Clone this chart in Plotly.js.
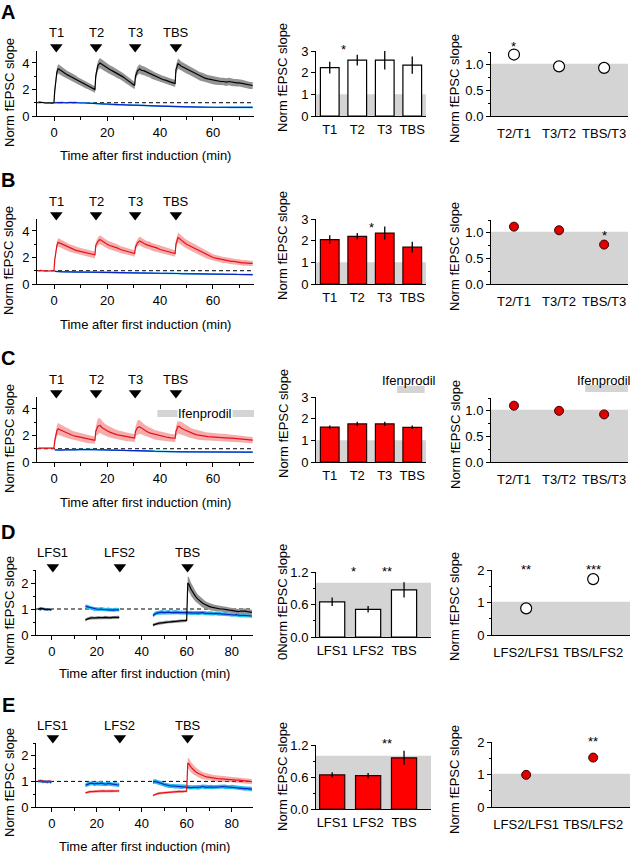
<!DOCTYPE html>
<html><head><meta charset="utf-8">
<script src="https://cdn.plot.ly/plotly-3.0.1.min.js"></script>
<style>html,body{margin:0;padding:0;background:#fff}#chart{width:632px;height:853px}</style>
</head><body><div id="chart"></div>
<script>
// ===================== DATA =====================
// time (min) grid for panels A-C
const tABC = [-6,-5,-4,-3,-2,-1,-0.1,
 0.2,1,1.5,2,3,4,5,6,7,8,9,10,11,12,13,14,15,15.4,
 15.7,16.5,17.3,18,19,20,21,22,23,24,25,26,27,28,29,30,30.4,
 30.7,31.5,32.3,33,34,35,36,37,38,39,40,41,42,43,44,45,45.7,
 46,46.8,47.5,48,49,50,51,52,53,54,55,56,57,58,59,60,61,62,63,64,65,66,67,68,69,70,71,72,73,74,75];

const A_test = [1.05,1.02,1.0,0.98,1.0,0.97,1.0,
 1.9,3.3,3.55,3.5,3.35,3.2,3.1,3.0,2.9,2.8,2.65,2.55,2.45,2.35,2.25,2.15,2.05,2.0,
 3.0,3.8,4.0,3.9,3.75,3.6,3.5,3.4,3.3,3.15,3.05,2.95,2.8,2.65,2.5,2.35,2.3,
 3.0,3.4,3.55,3.45,3.4,3.3,3.25,3.1,3.0,2.9,2.85,2.75,2.7,2.6,2.55,2.5,2.45,
 3.5,3.95,3.85,3.75,3.65,3.55,3.45,3.3,3.2,3.1,3.0,2.95,2.85,2.8,2.75,2.7,2.65,2.65,2.6,2.6,2.55,2.6,2.55,2.5,2.5,2.5,2.45,2.4,2.35,2.3,2.3];
const A_testSem = [0.06,0.05,0.06,0.05,0.06,0.05,0.06,
 0.15,0.3,0.35,0.35,0.33,0.32,0.3,0.3,0.3,0.28,0.28,0.28,0.27,0.27,0.26,0.26,0.25,0.25,
 0.3,0.35,0.38,0.37,0.35,0.34,0.33,0.33,0.32,0.31,0.3,0.3,0.29,0.28,0.28,0.27,0.27,
 0.3,0.33,0.35,0.34,0.33,0.33,0.32,0.31,0.3,0.3,0.29,0.29,0.28,0.28,0.27,0.27,0.27,
 0.33,0.38,0.37,0.36,0.35,0.34,0.34,0.33,0.33,0.32,0.32,0.31,0.31,0.3,0.3,0.3,0.3,0.29,0.29,0.29,0.29,0.29,0.28,0.28,0.28,0.28,0.28,0.28,0.27,0.27,0.27];
const A_ctl = [null,null,null,null,null,null,null,
 1.0,1.02,1.01,1.0,1.02,1.0,1.01,1.03,1.0,1.02,1.0,0.99,1.01,1.0,0.98,0.97,0.95,0.94,
 0.92,0.9,0.9,0.89,0.88,0.87,0.86,0.86,0.85,0.84,0.85,0.84,0.83,0.83,0.82,0.82,0.82,
 0.83,0.82,0.8,0.8,0.79,0.78,0.78,0.77,0.76,0.76,0.75,0.75,0.74,0.74,0.73,0.73,0.72,
 0.72,0.71,0.71,0.7,0.7,0.69,0.69,0.68,0.68,0.68,0.67,0.67,0.67,0.66,0.66,0.66,0.66,0.65,0.65,0.65,0.65,0.65,0.66,0.65,0.64,0.65,0.65,0.64,0.64,0.65,0.65];

const B_test = [1.0,1.02,0.98,1.0,1.01,0.99,1.0,
 1.8,2.9,3.15,3.1,3.0,2.9,2.8,2.7,2.65,2.55,2.5,2.45,2.4,2.35,2.3,2.25,2.2,2.2,
 2.9,3.2,3.35,3.25,3.1,3.0,2.9,2.85,2.75,2.7,2.6,2.55,2.5,2.45,2.4,2.35,2.3,
 2.8,3.1,3.25,3.15,3.05,2.95,2.9,2.8,2.75,2.7,2.6,2.55,2.5,2.45,2.4,2.35,2.3,
 3.0,3.5,3.4,3.3,3.15,3.0,2.9,2.75,2.65,2.55,2.45,2.35,2.25,2.15,2.1,2.0,1.95,1.9,1.85,1.8,1.8,1.75,1.7,1.7,1.65,1.65,1.6,1.6,1.55,1.55,1.55];
const B_testSem = [0.06,0.06,0.06,0.06,0.06,0.06,0.06,
 0.15,0.28,0.32,0.32,0.3,0.3,0.29,0.28,0.28,0.27,0.27,0.26,0.26,0.26,0.25,0.25,0.25,0.25,
 0.25,0.3,0.33,0.32,0.31,0.3,0.3,0.29,0.28,0.28,0.27,0.27,0.27,0.26,0.26,0.26,0.25,
 0.25,0.3,0.33,0.32,0.31,0.3,0.3,0.29,0.28,0.28,0.27,0.27,0.27,0.26,0.26,0.26,0.25,
 0.3,0.38,0.37,0.35,0.34,0.33,0.32,0.31,0.3,0.29,0.28,0.27,0.27,0.26,0.25,0.25,0.24,0.24,0.23,0.23,0.22,0.22,0.22,0.21,0.21,0.21,0.2,0.2,0.2,0.2,0.2];
const B_ctl = [null,null,null,null,null,null,null,
 0.95,0.93,0.92,0.93,0.92,0.92,0.91,0.92,0.91,0.9,0.91,0.9,0.9,0.9,0.89,0.9,0.89,0.89,
 0.89,0.88,0.88,0.87,0.88,0.87,0.87,0.86,0.86,0.86,0.85,0.85,0.85,0.84,0.84,0.84,0.84,
 0.84,0.83,0.83,0.83,0.82,0.82,0.82,0.81,0.81,0.81,0.8,0.8,0.8,0.8,0.79,0.79,0.79,
 0.79,0.79,0.78,0.78,0.78,0.77,0.77,0.77,0.76,0.76,0.76,0.76,0.75,0.75,0.75,0.75,0.74,0.74,0.74,0.74,0.73,0.73,0.73,0.73,0.72,0.72,0.72,0.72,0.71,0.71,0.71];

const C_test = [1.05,1.06,1.04,1.05,1.06,1.05,1.05,
 1.6,2.35,2.5,2.45,2.35,2.25,2.15,2.1,2.0,1.95,1.9,1.85,1.8,1.75,1.7,1.68,1.65,1.65,
 2.3,2.7,2.75,2.6,2.45,2.35,2.25,2.15,2.1,2.05,2.0,1.95,1.9,1.88,1.85,1.82,1.8,
 2.3,2.6,2.65,2.55,2.4,2.3,2.2,2.15,2.05,2.0,1.95,1.9,1.88,1.85,1.82,1.8,1.8,
 2.3,2.7,2.65,2.55,2.45,2.35,2.25,2.15,2.1,2.05,2.0,1.97,1.95,1.92,1.9,1.88,1.88,1.86,1.85,1.85,1.82,1.8,1.8,1.78,1.75,1.73,1.72,1.7,1.68,1.65,1.65];
const C_testSem = [0.05,0.05,0.05,0.05,0.05,0.05,0.05,
 0.2,0.4,0.45,0.42,0.4,0.38,0.36,0.35,0.34,0.33,0.32,0.31,0.3,0.3,0.29,0.29,0.28,0.28,
 0.35,0.6,0.55,0.5,0.45,0.42,0.4,0.38,0.36,0.35,0.34,0.33,0.32,0.31,0.3,0.3,0.3,
 0.35,0.55,0.52,0.48,0.45,0.42,0.4,0.38,0.36,0.35,0.34,0.33,0.32,0.31,0.3,0.3,0.3,
 0.35,0.55,0.52,0.48,0.45,0.42,0.4,0.38,0.36,0.35,0.34,0.33,0.32,0.31,0.3,0.3,0.29,0.29,0.28,0.28,0.27,0.27,0.26,0.26,0.25,0.25,0.25,0.24,0.24,0.24,0.24];
const C_ctl = [null,null,null,null,null,null,null,
 0.92,0.9,0.9,0.91,0.9,0.92,0.91,0.92,0.93,0.92,0.93,0.94,0.93,0.94,0.95,0.94,0.93,0.93,
 0.92,0.92,0.91,0.91,0.9,0.9,0.9,0.89,0.89,0.88,0.88,0.88,0.87,0.87,0.86,0.86,0.86,
 0.85,0.85,0.84,0.84,0.83,0.83,0.82,0.82,0.81,0.8,0.8,0.79,0.79,0.78,0.78,0.77,0.77,
 0.77,0.77,0.76,0.76,0.76,0.76,0.75,0.75,0.76,0.76,0.76,0.77,0.77,0.77,0.77,0.76,0.76,0.76,0.76,0.76,0.75,0.75,0.75,0.75,0.75,0.74,0.74,0.74,0.74,0.74,0.74];
const ctlSemABC = [null,null,null,null,null,null,null,
 0.05,0.06,0.06,0.05,0.06,0.06,0.05,0.06,0.06,0.05,0.06,0.06,0.05,0.06,0.06,0.05,0.06,0.06,
 0.06,0.06,0.05,0.06,0.06,0.05,0.06,0.06,0.05,0.06,0.06,0.05,0.06,0.06,0.05,0.06,0.06,
 0.06,0.06,0.05,0.06,0.06,0.05,0.06,0.06,0.05,0.06,0.06,0.05,0.06,0.06,0.05,0.06,0.06,
 0.06,0.06,0.05,0.06,0.06,0.05,0.06,0.06,0.05,0.06,0.06,0.05,0.06,0.06,0.05,0.06,0.06,0.05,0.06,0.06,0.05,0.06,0.06,0.05,0.06,0.06,0.05,0.06,0.06,0.05,0.06];

// time (min) grid for panels D-E (nulls = gaps during LFS)
const tDE = [-6,-5,-4,-3,-2,-1,-0.2, 7,
 15,16,17,18,19,20,21,22,23,24,25,26,27,28,29,30, 37,
 45,46,47,48,49,50,51,52,53,54,55,56,57,58,59,60, 60.5,
 61,62,63,64,65,66,67,68,69,70,71,72,73,74,75,76,77,78,79,80,81,82,83,84,85,86,87,88,89];
const D_test = [1.0,1.03,1.02,0.98,1.0,0.99,0.97, null,
 0.58,0.63,0.65,0.66,0.65,0.66,0.67,0.66,0.67,0.68,0.67,0.66,0.68,0.67,0.68,0.68, null,
 0.38,0.42,0.44,0.46,0.47,0.48,0.5,0.5,0.51,0.52,0.52,0.53,0.54,0.55,0.55,0.56, 2.0,
 1.95,1.75,1.6,1.48,1.38,1.3,1.23,1.18,1.13,1.1,1.07,1.05,1.03,1.02,1.0,1.0,0.98,0.97,0.96,0.95,0.94,0.93,0.9,0.92,0.93,0.92,0.9,0.88,0.87];
const D_testSem = [0.05,0.04,0.05,0.05,0.04,0.05,0.05, null,
 0.06,0.05,0.06,0.06,0.05,0.06,0.06,0.05,0.06,0.06,0.05,0.06,0.06,0.05,0.06,0.06, null,
 0.06,0.05,0.06,0.06,0.05,0.06,0.06,0.05,0.06,0.06,0.05,0.06,0.06,0.05,0.06,0.06, 0.25,
 0.28,0.25,0.22,0.2,0.18,0.17,0.16,0.15,0.14,0.13,0.13,0.12,0.12,0.12,0.11,0.11,0.11,0.11,0.1,0.1,0.1,0.1,0.1,0.1,0.1,0.1,0.1,0.1,0.1];
const D_ctl = [1.0,0.98,1.01,1.0,0.97,0.99,0.96, null,
 1.1,1.08,1.05,1.02,1.0,1.0,0.99,1.0,0.98,0.97,0.98,0.97,0.96,0.97,0.98,0.97, null,
 0.75,0.82,0.85,0.87,0.88,0.86,0.87,0.88,0.86,0.87,0.88,0.87,0.86,0.85,0.86,0.86, 0.85,
 0.85,0.85,0.84,0.85,0.84,0.85,0.86,0.84,0.83,0.84,0.83,0.82,0.83,0.82,0.81,0.8,0.81,0.8,0.79,0.78,0.77,0.78,0.76,0.75,0.76,0.75,0.74,0.74,0.73];
const D_ctlSem = [0.04,0.05,0.04,0.05,0.04,0.05,0.04, null,
 0.07,0.08,0.07,0.07,0.08,0.07,0.07,0.08,0.07,0.07,0.08,0.07,0.07,0.08,0.07,0.07, null,
 0.07,0.08,0.07,0.07,0.08,0.07,0.07,0.08,0.07,0.07,0.08,0.07,0.07,0.08,0.07,0.07, 0.07,
 0.07,0.08,0.07,0.07,0.08,0.07,0.07,0.08,0.07,0.07,0.08,0.07,0.07,0.08,0.07,0.07,0.08,0.07,0.07,0.08,0.07,0.07,0.08,0.07,0.07,0.08,0.07,0.07,0.08];
const E_test = [1.02,1.0,1.03,0.98,1.01,1.0,1.0, null,
 0.55,0.58,0.6,0.6,0.61,0.62,0.61,0.62,0.63,0.62,0.63,0.64,0.63,0.62,0.63,0.63, null,
 0.45,0.5,0.52,0.54,0.55,0.56,0.57,0.58,0.58,0.59,0.6,0.6,0.61,0.6,0.61,0.62, 1.72,
 1.68,1.55,1.45,1.38,1.32,1.27,1.23,1.2,1.18,1.16,1.14,1.13,1.12,1.11,1.1,1.1,1.09,1.08,1.08,1.07,1.06,1.05,1.05,1.04,1.03,1.02,1.02,1.0,0.99];
const E_testSem = [0.04,0.04,0.04,0.04,0.04,0.04,0.04, null,
 0.05,0.05,0.05,0.05,0.05,0.05,0.05,0.05,0.05,0.05,0.05,0.05,0.05,0.05,0.05,0.05, null,
 0.05,0.05,0.05,0.05,0.05,0.05,0.05,0.05,0.05,0.05,0.05,0.05,0.05,0.05,0.05,0.05, 0.2,
 0.22,0.2,0.18,0.17,0.16,0.15,0.14,0.14,0.13,0.13,0.12,0.12,0.12,0.12,0.11,0.11,0.11,0.11,0.11,0.1,0.1,0.1,0.1,0.1,0.1,0.1,0.1,0.1,0.1];
const E_ctl = [1.0,1.02,0.98,1.0,0.97,1.0,0.95, null,
 0.85,0.9,0.92,0.93,0.9,0.92,0.91,0.93,0.9,0.89,0.92,0.9,0.88,0.89,0.87,0.86, null,
 0.98,1.0,0.97,0.95,0.92,0.88,0.85,0.83,0.82,0.82,0.81,0.8,0.8,0.79,0.8,0.79, 0.78,
 0.76,0.76,0.77,0.77,0.76,0.78,0.8,0.78,0.77,0.78,0.78,0.77,0.78,0.78,0.79,0.8,0.79,0.78,0.77,0.78,0.77,0.76,0.75,0.74,0.73,0.72,0.72,0.71,0.7];
const E_ctlSem = [0.05,0.06,0.05,0.06,0.05,0.06,0.05, null,
 0.08,0.09,0.08,0.08,0.09,0.08,0.08,0.09,0.08,0.08,0.09,0.08,0.08,0.09,0.08,0.08, null,
 0.08,0.09,0.08,0.08,0.09,0.08,0.08,0.09,0.08,0.08,0.09,0.08,0.08,0.09,0.08,0.08, 0.08,
 0.08,0.09,0.08,0.08,0.09,0.08,0.08,0.09,0.08,0.08,0.09,0.08,0.08,0.09,0.08,0.08,0.09,0.08,0.08,0.09,0.08,0.08,0.09,0.08,0.08,0.09,0.08,0.08,0.09];

// stimulation markers
const stimT_ABC = [0.8, 15.8, 30.6, 46];
const stimLbl_ABC = ['T1','T2','T3','TBS'];
const stimT_DE = [0.5, 30.3, 60.4];
const stimLbl_DE = ['LFS1','LFS2','TBS'];
const ifenT = [39, 75.5];          // ifenprodil application (min), panel C

// bar summaries
const barCats_ABC = ['T1','T2','T3','TBS'];
const A_bar = [2.23, 2.58, 2.58, 2.35], A_barErr = [0.27, 0.25, 0.43, 0.4];
const B_bar = [2.05, 2.2, 2.35, 1.7],   B_barErr = [0.2, 0.15, 0.3, 0.25];
const C_bar = [1.61, 1.76, 1.76, 1.6],  C_barErr = [0.08, 0.1, 0.1, 0.08];
const barCats_DE = ['LFS1','LFS2','TBS'];
const D_bar = [0.65, 0.51, 0.87], D_barErr = [0.08, 0.06, 0.14];
const E_bar = [0.64, 0.625, 0.96], E_barErr = [0.05, 0.05, 0.13];

// ratios
const ratioCats_ABC = ['T2/T1','T3/T2','TBS/T3'];
const A_ratio = [1.2, 0.97, 0.94];
const B_ratio = [1.12, 1.05, 0.77];
const C_ratio = [1.1, 1.0, 0.93];
const ratioCats_DE = ['LFS2/LFS1','TBS/LFS2'];
const D_ratio = [0.82, 1.72];
const E_ratio = [0.99, 1.52];

// significance marks [x (category index), y, text]
const A_barStarX = [0.5],  A_barStarY = [3.2],  A_barStarT = ['*'];
const A_ratStarX = [0],    A_ratStarY = [1.41], A_ratStarT = ['*'];
const B_barStarX = [1.5],  B_barStarY = [2.75], B_barStarT = ['*'];
const B_ratStarX = [2],    B_ratStarY = [1.0],  B_ratStarT = ['*'];
const D_barStarX = [0.58, 1.53], D_barStarY = [1.27, 1.27], D_barStarT = ['*','**'];
const D_ratStarX = [0, 1], D_ratStarY = [2.12, 2.12], D_ratStarT = ['**','***'];
const E_barStarX = [1.53], E_barStarY = [1.29], E_barStarT = ['**'];
const E_ratStarX = [1],    E_ratStarY = [2.12], E_ratStarT = ['**'];

// ===================== DRAWING =====================
const W = 632, H = 853;
const FONT = '"Liberation Sans", Arial, Helvetica, sans-serif';
const fx = p => p / W, fy = p => 1 - p / H;
const R = (n, k) => k + (n === 1 ? '' : n);
const AX = (n, k) => (k === 'x' ? 'xaxis' : 'yaxis') + (n === 1 ? '' : n);
const traces = [];
const layout = {width: W, height: H, margin: {l:0, r:0, t:0, b:0}, paper_bgcolor: '#fff',
  plot_bgcolor: 'rgba(0,0,0,0)', showlegend: false, font: {family: FONT, size: 13, color: '#000'},
  shapes: [], annotations: []};

const COL = {
  black: '#000000', gray: '#939393',
  red: '#e8101a', redBand: 'rgba(238,70,70,0.45)',
  blue: '#0a22c8', cyan: '#22bde9',
  shade: '#d4d4d4'
};

function baseAxis() {
  return {showline: true, linecolor: '#000', linewidth: 1, showgrid: false, zeroline: false,
    fixedrange: true, ticks: 'outside', ticklen: 4, tickwidth: 1, tickcolor: '#000',
    tickfont: {family: FONT, size: 13, color: '#000'}};
}
function minor(d) { return {ticks: 'outside', ticklen: 2.5, tickwidth: 1, tickcolor: '#000', dtick: d}; }
function addAxes(n, box, xo, yo) {
  layout[AX(n,'x')] = Object.assign(baseAxis(), {domain: [fx(box.x0), fx(box.x1)], anchor: R(n,'y')}, xo);
  layout[AX(n,'y')] = Object.assign(baseAxis(), {domain: [fy(box.y1), fy(box.y0)], anchor: R(n,'x')}, yo);
}
function ann(text, xpx, ypx, opt) {
  layout.annotations.push(Object.assign({text, x: fx(xpx), y: fy(ypx), xref: 'paper', yref: 'paper',
    showarrow: false, xanchor: 'center', yanchor: 'middle',
    font: {family: FONT, size: 13, color: '#000'}}, opt || {}));
}
// stars: x on the category axis, y converted from axis value to paper (may lie above the axis top)
function stars(n, xs, ys, ts, top, bot, ymax) {
  xs.forEach((x, i) => layout.annotations.push({text: ts[i], x, xref: R(n,'x'),
    y: fy(bot - ys[i] / ymax * (bot - top)), yref: 'paper',
    showarrow: false, xanchor: 'center', yanchor: 'middle', yshift: -3,
    font: {family: FONT, size: 13, color: '#000'}}));
}
function segments(t, v, s) {
  const segs = []; let cur = null;
  for (let i = 0; i < t.length; i++) {
    if (v[i] === null || v[i] === undefined) { if (cur) { segs.push(cur); cur = null; } continue; }
    if (!cur) cur = {t: [], v: [], s: []};
    cur.t.push(t[i]); cur.v.push(v[i]); cur.s.push(s[i]);
  }
  if (cur) segs.push(cur);
  return segs;
}
function band(n, t, v, s, color) {
  segments(t, v, s).forEach(seg => {
    const xs = seg.t.concat(seg.t.slice().reverse());
    const ys = seg.v.map((m, i) => m + seg.s[i]).concat(seg.v.map((m, i) => m - seg.s[i]).reverse());
    traces.push({type: 'scatter', mode: 'lines', x: xs, y: ys, fill: 'toself', fillcolor: color,
      line: {width: 0}, xaxis: R(n,'x'), yaxis: R(n,'y'), hoverinfo: 'skip'});
  });
}
function line(n, t, v, color) {
  traces.push({type: 'scatter', mode: 'lines', x: t, y: v, connectgaps: false,
    line: {color, width: 1.2}, xaxis: R(n,'x'), yaxis: R(n,'y'), hoverinfo: 'skip'});
}
function shade(n, top) {
  layout.shapes.push({type: 'rect', xref: R(n,'x') + ' domain', yref: R(n,'y'), x0: 0, x1: 1, y0: 0, y1: top,
    fillcolor: COL.shade, line: {width: 0}, layer: 'below'});
}
function dashed(n) {
  layout.shapes.push({type: 'line', xref: R(n,'x') + ' domain', yref: R(n,'y'), x0: 0, x1: 1, y0: 1, y1: 1,
    line: {color: '#000', width: 1, dash: '4px,3px'}, layer: 'below'});
}

// ---- panel description ----
const panels = [
  {L:'A', o:0,   kind:'ABC', t:tABC, test:A_test, testSem:A_testSem, ctl:A_ctl, ctlSem:ctlSemABC,
   testCol:COL.black, testBand:COL.gray, bar:A_bar, barErr:A_barErr, barFill:'#ffffff', ratio:A_ratio, red:false,
   bs:[A_barStarX,A_barStarY,A_barStarT], rs:[A_ratStarX,A_ratStarY,A_ratStarT]},
  {L:'B', o:168, kind:'ABC', t:tABC, test:B_test, testSem:B_testSem, ctl:B_ctl, ctlSem:ctlSemABC,
   testCol:COL.red, testBand:COL.redBand, bar:B_bar, barErr:B_barErr, barFill:'#ff0000', ratio:B_ratio, red:true,
   bs:[B_barStarX,B_barStarY,B_barStarT], rs:[B_ratStarX,B_ratStarY,B_ratStarT]},
  {L:'C', o:346, kind:'ABC', t:tABC, test:C_test, testSem:C_testSem, ctl:C_ctl, ctlSem:ctlSemABC,
   testCol:COL.red, testBand:COL.redBand, bar:C_bar, barErr:C_barErr, barFill:'#ff0000', ratio:C_ratio, red:true,
   bs:null, rs:null, ifen:true},
  {L:'D', o:0, kind:'DE', t:tDE, test:D_test, testSem:D_testSem, ctl:D_ctl, ctlSem:D_ctlSem,
   testCol:COL.black, testBand:COL.gray, bar:D_bar, barErr:D_barErr, barFill:'#ffffff', ratio:D_ratio, red:false,
   bs:[D_barStarX,D_barStarY,D_barStarT], rs:[D_ratStarX,D_ratStarY,D_ratStarT],
   g:{letter:532, stimLbl:552, tri:567, tTop:570, tBot:635, bTop:572, bBot:637, rTop:570, rBot:635,
      xt:673, yt1:611, yt2:602, yt3:607, ytitle2:'0Norm fEPSC slope'}},
  {L:'E', o:0, kind:'DE', t:tDE, test:E_test, testSem:E_testSem, ctl:E_ctl, ctlSem:E_ctlSem,
   testCol:COL.red, testBand:COL.redBand, bar:E_bar, barErr:E_barErr, barFill:'#ff0000', ratio:E_ratio, red:true,
   bs:[E_barStarX,E_barStarY,E_barStarT], rs:[E_ratStarX,E_ratStarY,E_ratStarT],
   g:{letter:705, stimLbl:725, tri:738, tTop:743, tBot:807, bTop:745, bBot:809, rTop:742, rBot:807,
      xt:846, yt1:783, yt2:777, yt3:780, ytitle2:'Norm fEPSC slope'}}
];

panels.forEach((P, p) => {
  const n1 = p * 3 + 1, n2 = p * 3 + 2, n3 = p * 3 + 3, nS = 16 + p;
  let g;
  if (P.kind === 'ABC') {
    const o = P.o;
    g = {letter:12+o, stimLbl:33+o, tri:47+o, tTop:51+o, tBot:116+o, bTop:51+o, bBot:116+o, rTop:52+o, rBot:116+o,
         xt:156+o, yt1:93+o, yt2:78+o, yt3:88+o, ytitle2:'Norm fEPSC slope'};
  } else g = P.g;
  const isABC = P.kind === 'ABC';
  const tRange = isABC ? [-6.5, 75.5] : [-7, 89.5];
  const tY = isABC ? [0, 4.9] : [0, 2.5];
  const tBox = isABC ? {x0:37, x1:254} : {x0:36, x1:253};

  // ---------- time course ----------
  addAxes(n1, {x0: tBox.x0, x1: tBox.x1, y0: g.tTop, y1: g.tBot},
    {range: tRange, tick0: 0, dtick: 20, minor: minor(10)},
    {range: tY, tick0: 0, dtick: isABC ? 2 : 1, minor: minor(isABC ? 1 : 0.5)});
  dashed(n1);
  band(n1, P.t, P.ctl, P.ctlSem, COL.cyan);
  band(n1, P.t, P.test, P.testSem, P.testBand);
  line(n1, P.t, P.ctl, COL.blue);
  line(n1, P.t, P.test, P.testCol);

  // stimulus row: its own invisible subplot sharing the time scale
  const stimT = isABC ? stimT_ABC : stimT_DE;
  const stimL = isABC ? stimLbl_ABC : stimLbl_DE;
  layout[AX(nS,'x')] = {domain: [fx(tBox.x0), fx(tBox.x1)], range: tRange, visible: false, fixedrange: true, anchor: R(nS,'y')};
  layout[AX(nS,'y')] = {domain: [fy(g.tri + 8), fy(g.tri - 8)], range: [-1, 1], visible: false, fixedrange: true, anchor: R(nS,'x')};
  traces.push({type: 'scatter', mode: 'markers', x: stimT, y: stimT.map(() => 0),
    marker: {symbol: 'triangle-down', size: 11, color: '#000', line: {width: 0}},
    xaxis: R(nS,'x'), yaxis: R(nS,'y'), hoverinfo: 'skip'});
  stimT.forEach((s, i) => layout.annotations.push({text: stimL[i], x: s, y: fy(g.stimLbl), xref: R(n1,'x'), yref: 'paper',
    showarrow: false, xanchor: 'center', yanchor: 'middle', font: {family: FONT, size: 13, color: '#000'}}));
  ann('Time after first induction (min)', (tBox.x0 + tBox.x1) / 2, g.xt);
  ann('Norm fEPSC slope', 9, g.yt1, {textangle: -90});
  ann('<b>' + P.L + '</b>', 8, g.letter, {font: {family: FONT, size: 20, color: '#000'}});

  // ---------- bar chart ----------
  const cats = isABC ? barCats_ABC : barCats_DE;
  const bMax = isABC ? 3 : 1.2;
  addAxes(n2, {x0: 316, x1: isABC ? 426 : 431, y0: g.bTop, y1: g.bBot},
    {type: 'category', range: isABC ? [-0.5, 3.5] : [-0.45, 2.75], ticks: '', ticklabelstandoff: 1},
    isABC ? {range: [0, bMax], dtick: 1} : {range: [0, bMax], dtick: 0.6, tickformat: '.1f', minor: minor(0.3)});
  shade(n2, 1);
  traces.push({type: 'bar', x: cats, y: P.bar, width: isABC ? 0.68 : 0.7,
    marker: {color: P.barFill, line: {color: P.red ? '#2a0000' : '#000', width: 1.2}},
    error_y: {type: 'data', array: P.barErr, visible: true, color: '#000', thickness: 1.3, width: 0},
    xaxis: R(n2,'x'), yaxis: R(n2,'y'), hoverinfo: 'skip', cliponaxis: false});
  if (P.bs) stars(n2, P.bs[0], P.bs[1], P.bs[2], g.bTop, g.bBot, bMax);
  ann(g.ytitle2, isABC ? 283 : 282, g.yt2, {textangle: -90});

  // ---------- ratio chart ----------
  const rc = isABC ? ratioCats_ABC : ratioCats_DE;
  const rMax = isABC ? 1.25 : 2;
  addAxes(n3, {x0: isABC ? 491 : 492, x1: isABC ? 628 : 630, y0: g.rTop, y1: g.rBot},
    {type: 'category', range: isABC ? [-0.51, 2.53] : [-0.51, 1.55], ticks: '', ticklabelstandoff: 5},
    isABC ? {range: [0, rMax], dtick: 0.5, tickformat: '.1f', minor: minor(0.25)} : {range: [0, rMax], dtick: 1, minor: minor(0.5)});
  shade(n3, 1.02);
  traces.push({type: 'scatter', mode: 'markers', x: rc, y: P.ratio, cliponaxis: false,
    marker: P.red ? {size: 9, color: '#e00000', line: {color: '#3a0000', width: 1}}
                  : {size: 11, color: '#ffffff', line: {color: '#000', width: 1.2}},
    xaxis: R(n3,'x'), yaxis: R(n3,'y'), hoverinfo: 'skip'});
  if (P.rs) stars(n3, P.rs[0], P.rs[1], P.rs[2], g.rTop, g.rBot, rMax);
  ann('Norm fEPSC slope', isABC ? 455 : 454, g.yt3, {textangle: -90});

  // ---------- ifenprodil bars (panel C) ----------
  if (P.ifen) {
    layout.shapes.push({type: 'rect', xref: R(n1,'x'), yref: 'paper', x0: ifenT[0], x1: ifenT[1],
      y0: fy(g.tTop + 20), y1: fy(g.tTop + 13), fillcolor: COL.shade, line: {width: 0}});
    layout.annotations.push({text: 'Ifenprodil', x: 46.3, y: fy(g.tTop + 16.5), xref: R(n1,'x'), yref: 'paper',
      xanchor: 'left', yanchor: 'middle', showarrow: false, bgcolor: '#ffffff', borderpad: 0,
      font: {family: FONT, size: 13, color: '#000'}});
    layout.shapes.push({type: 'rect', xref: R(n2,'x'), yref: 'paper', x0: 2.45, x1: 3.45,
      y0: fy(g.tTop - 4), y1: fy(g.tTop - 11), fillcolor: COL.shade, line: {width: 0}});
    ann('Ifenprodil', 409, g.tTop - 17);
    layout.shapes.push({type: 'rect', xref: R(n3,'x'), yref: 'paper', x0: 1.58, x1: 2.53,
      y0: fy(g.tTop - 5), y1: fy(g.tTop - 12), fillcolor: COL.shade, line: {width: 0}});
    ann('Ifenprodil', 604, g.tTop - 17);
  }
});

Plotly.newPlot('chart', traces, layout, {staticPlot: true, displayModeBar: false});
</script>
</body></html>
